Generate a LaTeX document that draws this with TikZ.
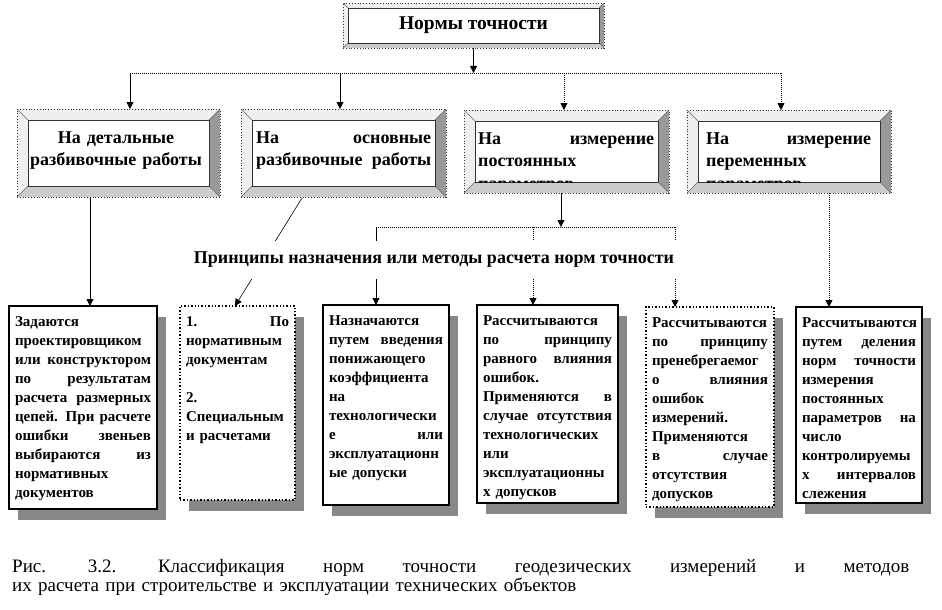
\documentclass[tikz,border=0pt]{standalone}
\usepackage{fontspec}
\setmainfont{Liberation Serif}
\usetikzlibrary{arrows.meta,calc,shadows}
\definecolor{bevlight}{HTML}{EFEFEF}
\definecolor{bevmid}{HTML}{CCCCCC}
\definecolor{bevdark}{HTML}{999999}
\definecolor{shade}{HTML}{888888}
\newcommand\bevelfill[1]{%
  \coordinate (pnw) at (path picture bounding box.north west);
  \coordinate (pne) at (path picture bounding box.north east);
  \coordinate (psw) at (path picture bounding box.south west);
  \coordinate (pse) at (path picture bounding box.south east);
  \coordinate (qnw) at ($(pnw)+(#1,#1)$);
  \coordinate (qne) at ($(pne)+(-#1,#1)$);
  \coordinate (qsw) at ($(psw)+(#1,-#1)$);
  \coordinate (qse) at ($(pse)+(-#1,-#1)$);
  \fill[bevlight] (pnw) -- (pne) -- (qne) -- (qnw) -- cycle;
  \fill[bevlight] (pnw) -- (psw) -- (qsw) -- (qnw) -- cycle;
  \fill[bevdark] (pne) -- (pse) -- (qse) -- (qne) -- cycle;
  \fill[bevmid] (psw) -- (pse) -- (qse) -- (qsw) -- cycle;
  \draw[solid, black!60, line width=0.5pt] (pnw) -- (qnw) (pne) -- (qne) (psw) -- (qsw) (pse) -- (qse);
  \draw[solid, black!80, line width=0.8pt, fill=white] (qnw) rectangle (qse);
}
\tikzset{
  bevelbox/.style={draw=black!80, dotted, line width=0.8pt, inner sep=0pt, outer sep=0pt, path picture={\bevelfill{#1}}},
  headtext/.style={font=\bfseries\fontsize{18}{22.5}\selectfont, inner sep=0pt, align=left},
  bottombox/.style n args={2}{draw, line width=1.4pt, fill=white, anchor=north west, inner xsep=6pt, inner ysep=0pt, outer sep=0pt,
    text width=#1, text height=20pt, text depth=#2, align=left, font=\bfseries\fontsize{15}{19}\selectfont,
    drop shadow={shadow xshift=9pt, shadow yshift=-11pt, fill=shade, opacity=1}},
  conn/.style={line width=0.8pt, -{Triangle[width=7pt,length=7pt]}},
  dconn/.style={conn, dash pattern=on 0.8pt off 1.2pt},
  dline/.style={line width=0.8pt, dash pattern=on 0.8pt off 1.2pt}
}
\begin{document}
\begin{tikzpicture}[x=1pt,y=-1pt]
          \useasboundingbox (0,0) rectangle (942,610);
          \node[bevelbox=5, minimum width=261, minimum height=45, font=\bfseries\fontsize{19.5}{22}\selectfont] (norm) at (473.5,25.5) {Нормы точности};
          \node[bevelbox=11, minimum width=203, minimum height=88] (hdet) at (118.5,153) {};
          \node[bevelbox=11, minimum width=205, minimum height=88] (hosn) at (343.5,153) {};
          \node[bevelbox=11, minimum width=205, minimum height=83] (hpost) at (566.5,151.5) {};
          \node[bevelbox=11, minimum width=204, minimum height=83] (hper) at (789,151.5) {};
          \node[headtext, text width=190, align=center, anchor=base] (tdet) at (116,143) {На детальные\\разбивочные работы};
          \node[headtext, text width=175, anchor=base west] (tosn) at (256,143) {На \hfill основные\\разбивочные\hfill работы};
          \begin{scope}
            \clip ($(hpost.north west)+(11,11)$) rectangle ($(hpost.south east)+(-11,-11)$);
            \node[headtext, text width=176, anchor=base west] (tpost) at (478,144) {На \hfill измерение\\постоянных\\параметров};
          \end{scope}
          \begin{scope}
            \clip ($(hper.north west)+(11,11)$) rectangle ($(hper.south east)+(-11,-11)$);
            \node[headtext, text width=165, anchor=base west] (tper) at (706,144) {На \hfill измерение\\переменных\\параметров};
          \end{scope}
          \node[bottombox={136pt}{183pt}] (bzad) at (9,306) {Задаются\\проектировщиком\\или \hfill конструктором\\по \hfill результатам\\расчета \hfill размерных\\цепей. \hfill При \hfill расчете\\ошибки \hfill звеньев\\выбираются \hfill из\\нормативных\\документов};
          \node[bottombox={103pt}{174pt}, dotted] (bdoc) at (180,306) {1. \hfill По\\нормативным\\документам\\[19pt]2.\\Специальным\\и расчетами};
          \node[bottombox={114pt}{180pt}] (bkoef) at (323,305) {Назначаются\\путем \hfill введения\\понижающего\\коэффициента\\на\\технологически\\е \hfill или\\эксплуатационн\\ые допуски};
          \node[bottombox={129pt}{178pt}] (bravn) at (477,305) {Рассчитываются\\по \hfill принципу\\равного \hfill влияния\\ошибок.\\Применяются \hfill в\\случае \hfill отсутствия\\технологических\\или\\эксплуатационны\\х допусков};
          \node[bottombox={116pt}{180pt}, dotted] (bpren) at (646,307) {Рассчитываются\\по \hfill принципу\\пренебрегаемог\\о \hfill влияния\\ошибок\\измерений.\\Применяются\\в \hfill случае\\отсутствия\\допусков};
          \node[bottombox={114pt}{176pt}] (bdel) at (796,307) {Рассчитываются\\путем \hfill деления\\норм \hfill точности\\измерения\\постоянных\\параметров \hfill на\\число\\контролируемы\\х \hfill интервалов\\слежения};
          \coordinate (j0) at (473.5,73);
          \coordinate (t1) at (130,73);
          \coordinate (t2) at (340,73);
          \coordinate (t3) at (564,73);
          \coordinate (t4) at (781,73);
          \draw[conn] (norm.south) -- (j0);
          \draw[dline] (t1) -- (t4);
          \draw[conn] (t1) -- (t1 |- hdet.north);
          \draw[conn] (t2) -- (t2 |- hosn.north);
          \draw[dconn] (t3) -- (t3 |- hpost.north);
          \draw[dconn] (t4) -- (t4 |- hper.north);
          \coordinate (d1) at (90,200);
          \coordinate (s2a) at (302,198);
          \coordinate (s2b) at (235,306);
          \coordinate (j3) at (561,227);
          \coordinate (u1) at (376,227);
          \coordinate (u2) at (533,227);
          \coordinate (u3) at (675,227);
          \coordinate (d6) at (829,200);
          \draw[conn] (d1 |- hdet.south) -- (d1 |- bzad.north);
          \draw[conn, line width=0.6pt] (s2a) -- (s2b);
          \draw[conn] (j3 |- hpost.south) -- (j3);
          \draw[dline] (u1) -- (u3);
          \draw[conn] (u1) -- (u1 |- bkoef.north);
          \draw[dconn] (u2) -- (u2 |- bravn.north);
          \draw[dconn] (u3) -- (u3 |- bpren.north);
          \draw[dconn] (d6 |- hper.south) -- (d6 |- bdel.north);
          \node[font=\bfseries\fontsize{18}{20}\selectfont, fill=white, inner xsep=2pt, inner ysep=11pt] (princ) at (434,260) {Принципы назначения или методы расчета норм точности};
          \node[font=\fontsize{19}{19}\selectfont, text width=897, align=left, anchor=base west, inner sep=0pt] (cap) at (12,572) {Рис. \hfill 3.2. \hfill Классификация \hfill норм \hfill точности \hfill геодезических \hfill измерений \hfill и \hfill методов\\их расчета при строительстве и эксплуатации технических объектов};
        \end{tikzpicture}
\end{document}
